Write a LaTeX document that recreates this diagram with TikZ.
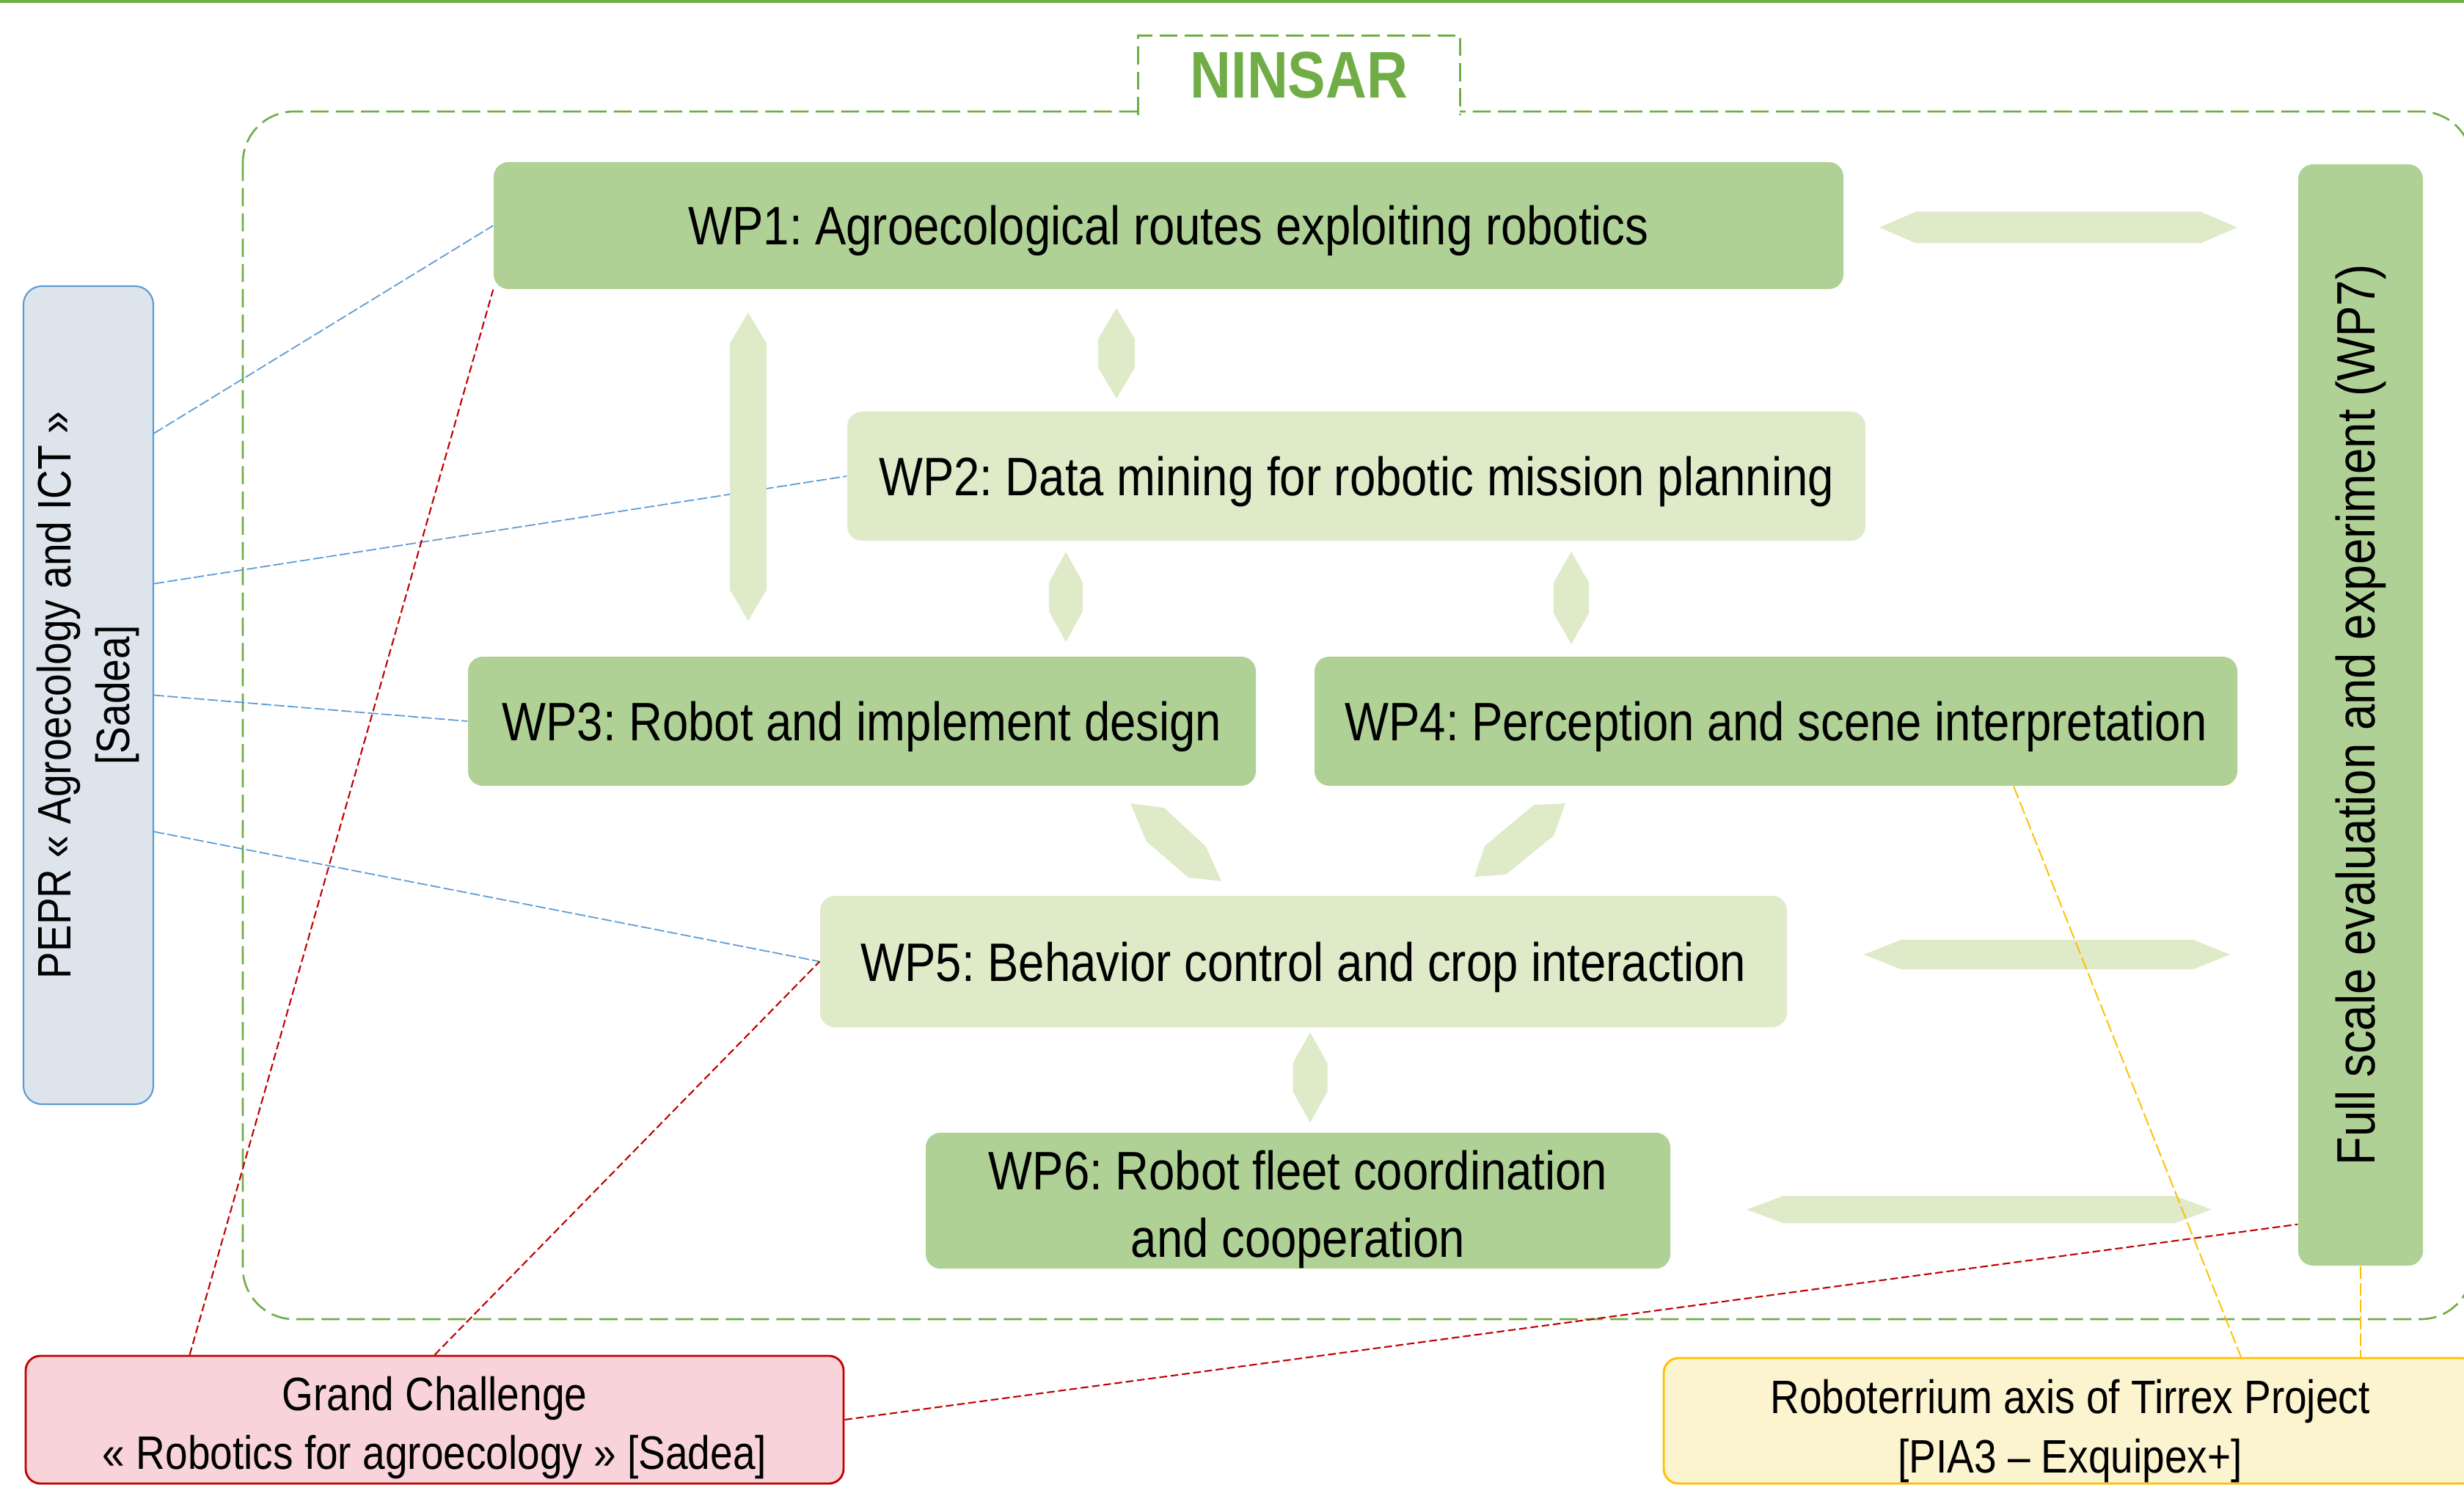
\documentclass[tikz,border=0pt]{standalone}
\usepackage{fontspec}
\setmainfont{Liberation Sans}[FakeStretch=0.86]
\usepackage{graphicx}
\usepackage{tikz}
\usetikzlibrary{calc}
\frenchspacing

\definecolor{ninsargreen}{RGB}{112,173,71}
\definecolor{wpdark}{RGB}{175,209,149}
\definecolor{wplight}{RGB}{222,234,200}
\definecolor{peprblue}{RGB}{91,155,213}
\definecolor{peprfill}{RGB}{222,228,235}
\definecolor{gcred}{RGB}{192,0,0}
\definecolor{gcfill}{RGB}{248,211,218}
\definecolor{tirgold}{RGB}{255,192,0}
\definecolor{tirfill}{RGB}{252,243,207}

\newcommand{\wpfont}{\fontsize{21}{26.2}\selectfont}
\newcommand{\sidefont}{\fontsize{18.2}{22.9}\selectfont}

% block arrows: x1, x2, y, half height / x, y1, y2, half width
\newcommand{\harrow}[4]{\fill[wplight] (#1,#3) -- ({#1+0.5},{#3+#4}) -- ({#2-0.5},{#3+#4}) -- (#2,#3) -- ({#2-0.5},{#3-#4}) -- ({#1+0.5},{#3-#4}) -- cycle;}
\newcommand{\varrow}[4]{\fill[wplight] (#1,#2) -- ({#1+#4},{#2-0.42}) -- ({#1+#4},{#3+0.42}) -- (#1,#3) -- ({#1-#4},{#3+0.42}) -- ({#1-#4},{#2-0.42}) -- cycle;}

\begin{document}
\begin{tikzpicture}[
    wp/.style={rectangle, rounded corners=0.2cm, inner sep=0pt, font=\wpfont, align=center},
    wpd/.style={wp, fill=wpdark},
    wpl/.style={wp, fill=wplight},
    oneline/.style={text height=0.72cm, text depth=0.19cm},
    sidebox/.style={rectangle, rounded corners=0.2cm, line width=0.8pt, inner sep=0pt, font=\sidefont, align=center},
    ninsarline/.style={draw=ninsargreen, line width=0.75pt, dash pattern=on 7pt off 2.8pt},
    peprlink/.style={peprblue, line width=0.5pt, dash pattern=on 4pt off 1.2pt},
    gclink/.style={gcred, line width=0.6pt, dash pattern=on 3pt off 1.4pt},
    tirlink/.style={tirgold, line width=0.55pt, dash pattern=on 5pt off 1.5pt}
]
    \useasboundingbox (0,0) rectangle (33.59,-20.24);
    \clip (0,0) rectangle (33.59,-20.24);
    \draw[ninsargreen, line width=1.3pt] (0,-0.02) -- (33.59,-0.02);
    % project frame
    \draw[ninsarline, rounded corners=0.7cm] (3.31,-1.52) rectangle (33.70,-17.98);
    \node[fill=white, minimum width=4.38cm, minimum height=1.07cm, inner sep=0pt, text=ninsargreen, font=\fontsize{25.6}{30}\selectfont\bfseries] (ninsar) at (17.71,-1.025) {NINSAR};
    \draw[ninsarline, line width=0.9pt] (ninsar.south west) -- (ninsar.north west) -- (ninsar.north east) -- (ninsar.south east);
    % work packages
    \node[wpd, oneline, minimum width=18.40cm, minimum height=1.73cm] (wp1) at (15.93,-3.075) {WP1: Agroecological routes exploiting robotics};
    \node[wpl, oneline, minimum width=13.88cm, minimum height=1.76cm] (wp2) at (18.49,-6.49) {WP2: Data mining for robotic mission planning};
    \node[wpd, oneline, minimum width=10.74cm, minimum height=1.76cm] (wp3) at (11.75,-9.83) {WP3: Robot and implement design};
    \node[wpd, oneline, minimum width=12.58cm, minimum height=1.76cm] (wp4) at (24.21,-9.83) {WP4: Perception and scene interpretation};
    \node[wpl, oneline, minimum width=13.18cm, minimum height=1.79cm] (wp5) at (17.77,-13.105) {WP5: Behavior control and crop interaction};
    \node[wpd, minimum width=10.15cm, minimum height=1.79cm] (wp6) at (17.695,-16.365) {\rule{0pt}{0.78cm}WP6: Robot fleet coordination\\and cooperation};
    \node[wpd, minimum width=1.70cm, minimum height=15.01cm] (wp7) at (32.18,-9.745) {\rotatebox{90}{Full scale evaluation and experiment (WP7)}};
    % partner programmes
    \node[sidebox, draw=peprblue, fill=peprfill, line width=0.6pt, rounded corners=0.25cm, minimum width=1.77cm, minimum height=11.15cm] (pepr) at (1.205,-9.475) {\rotatebox{90}{\begin{tabular}{@{}c@{}}PEPR « Agroecology and ICT »\\{}[Sadea]\end{tabular}}};
    \node[sidebox, draw=gcred, fill=gcfill, minimum width=11.15cm, minimum height=1.74cm] (grand) at (5.925,-19.35) {\rule{0pt}{0.68cm}Grand Challenge\\« Robotics for agroecology » [Sadea]};
    \node[sidebox, draw=tirgold, fill=tirfill, minimum width=11.08cm, minimum height=1.71cm] (tirrex) at (28.22,-19.365) {\rule{0pt}{0.74cm}Roboterrium axis of Tirrex Project\\{}[PIA3 – Exquipex+]};
    % links
    \draw[peprlink] ([yshift=3.57cm]pepr.east) -- (wp1.west);
    \draw[peprlink] ([yshift=1.52cm]pepr.east) -- (wp2.west);
    \draw[peprlink] (pepr.east) -- (wp3.west);
    \draw[peprlink] ([yshift=-1.86cm]pepr.east) -- (wp5.west);
    \draw[gclink] ([xshift=2.25cm]grand.north west) -- (wp1.south west);
    \draw[gclink] (grand.north) -- (wp5.west);
    \draw[gclink] (grand.east) -- ([yshift=0.57cm]wp7.south west);
    % exchanges between work packages
    \harrow{25.62}{30.50}{-3.10}{0.215}
    \harrow{25.41}{30.40}{-13.01}{0.20}
    \harrow{23.81}{30.15}{-16.485}{0.185}
    \varrow{10.20}{-4.26}{-8.46}{0.25}
    \varrow{15.22}{-4.20}{-5.43}{0.25}
    \varrow{14.53}{-7.52}{-8.75}{0.23}
    \varrow{21.42}{-7.52}{-8.78}{0.24}
    \varrow{17.86}{-14.07}{-15.30}{0.235}
    \fill[wplight] (15.41,-10.95) -- (15.87,-11.01) -- (16.44,-11.54) -- (16.65,-12.01) -- (16.20,-11.96) -- (15.63,-11.47) -- cycle;
    \fill[wplight] (20.91,-10.97) -- (21.34,-10.95) -- (21.18,-11.39) -- (20.53,-11.92) -- (20.10,-11.95) -- (20.24,-11.53) -- cycle;
    \draw[tirlink] ([xshift=3.24cm]wp4.south) -- ([xshift=2.33cm]tirrex.north);
    \draw[tirlink] (wp7.south) -- (wp7.south |- tirrex.north);
\end{tikzpicture}
\end{document}
